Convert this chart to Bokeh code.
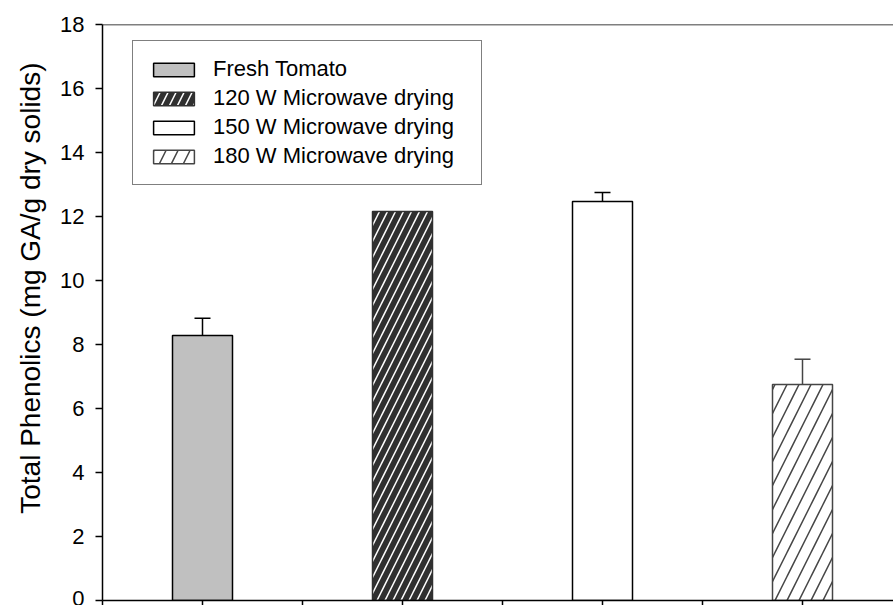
from bokeh.plotting import figure
from bokeh.models import (ColumnDataSource, Range1d, FixedTicker, Span, Legend,
                          LegendItem, Title)
from bokeh.embed import file_html
from bokeh.resources import INLINE

# Total phenolics of tomato samples (mg GA/g dry solids)
treatments = ["Fresh Tomato", "120 W Microwave drying",
              "150 W Microwave drying", "180 W Microwave drying"]
positions = [1, 3, 5, 7]
phenolics = [8.28, 12.16, 12.47, 6.75]
errors = [0.54, 0.0, 0.28, 0.79]
y_ticks = [0, 2, 4, 6, 8, 10, 12, 14, 16, 18]
x_ticks = [0, 1, 2, 3, 4, 5, 6, 7]

# bar styling per treatment
fill_colors = ["#c0c0c0", "#303030", "#ffffff", "#ffffff"]
line_colors = ["#000000", "#303030", "#000000", "#454545"]
hatch_patterns = [" ", "/", " ", "/"]
hatch_colors = ["#ffffff", "#ffffff", "#ffffff", "#454545"]
hatch_scales = [12, 16, 12, 24]

FONT = "Liberation Sans"

p = figure(width=893, height=605, output_backend="svg", toolbar_location=None,
           x_range=Range1d(0, 7.91), y_range=Range1d(0, 18),
           min_border_left=101, min_border_top=24, min_border_bottom=5,
           min_border_right=0)
p.background_fill_color = "white"
p.border_fill_color = "white"
p.outline_line_color = None
p.grid.visible = False

renderers = []
for i, name in enumerate(treatments):
    src = ColumnDataSource(dict(x=[positions[i]], top=[phenolics[i]]))
    r = p.vbar(x="x", top="top", bottom=0, width=0.6, source=src,
               fill_color=fill_colors[i], line_color=line_colors[i],
               line_width=1.5, hatch_pattern=hatch_patterns[i],
               hatch_color=hatch_colors[i], hatch_scale=hatch_scales[i],
               hatch_weight=1.5)
    renderers.append(r)

# upper error bars
eb_x = [positions[i] for i in range(4) if errors[i] > 0]
eb_lo = [phenolics[i] for i in range(4) if errors[i] > 0]
eb_hi = [phenolics[i] + errors[i] for i in range(4) if errors[i] > 0]
eb_col = [line_colors[i] for i in range(4) if errors[i] > 0]
eb = ColumnDataSource(dict(x=eb_x, lo=eb_lo, hi=eb_hi, c=eb_col,
                           cl=[v - 0.08 for v in eb_x], cr=[v + 0.08 for v in eb_x]))
p.segment(x0="x", y0="lo", x1="x", y1="hi", line_color="c", line_width=1.5, source=eb)
p.segment(x0="cl", y0="hi", x1="cr", y1="hi", line_color="c", line_width=1.5, source=eb)

# top frame line
p.add_layout(Span(location=18, dimension="width", line_color="black", line_width=1.5))

# y axis
p.yaxis.ticker = FixedTicker(ticks=y_ticks)
p.yaxis.major_label_text_font = FONT
p.yaxis.major_label_text_font_size = "22px"
p.yaxis.major_label_text_color = "black"
p.yaxis.major_label_standoff = 11
p.yaxis.major_tick_out = 7
p.yaxis.major_tick_in = 0
p.yaxis.minor_tick_out = 0
p.yaxis.minor_tick_in = 0
p.yaxis.axis_line_width = 1.5
p.yaxis.major_tick_line_width = 1.5
p.yaxis.axis_line_color = "black"

# y axis title, anchored from the top of the frame
p.add_layout(Title(text="Total Phenolics (mg GA/g dry solids)", align="right",
                   offset=38, text_font=FONT, text_font_size="28px",
                   text_font_style="normal", text_color="black", standoff=24),
             "left")

# x axis: line and ticks only
p.xaxis.ticker = FixedTicker(ticks=x_ticks)
p.xaxis.major_label_overrides = {t: "" for t in x_ticks}
p.xaxis.major_label_text_font_size = "1px"
p.xaxis.major_label_standoff = 0
p.xaxis.major_tick_out = 5
p.xaxis.major_tick_in = 0
p.xaxis.minor_tick_out = 0
p.xaxis.minor_tick_in = 0
p.xaxis.axis_line_width = 1.5
p.xaxis.major_tick_line_width = 1.5
p.xaxis.axis_line_color = "black"

legend = Legend(items=[LegendItem(label=treatments[i], renderers=[renderers[i]])
                       for i in range(4)],
                location=(30, 415), orientation="vertical",
                label_text_font=FONT, label_text_font_size="22px",
                label_text_color="black",
                glyph_width=51, glyph_height=17, label_standoff=14,
                label_width=253, spacing=3, padding=15, margin=0,
                border_line_color="black", border_line_width=1.5,
                background_fill_color="white", background_fill_alpha=1.0)
p.add_layout(legend, "center")

open("out.html", "w").write(file_html(p, INLINE))
